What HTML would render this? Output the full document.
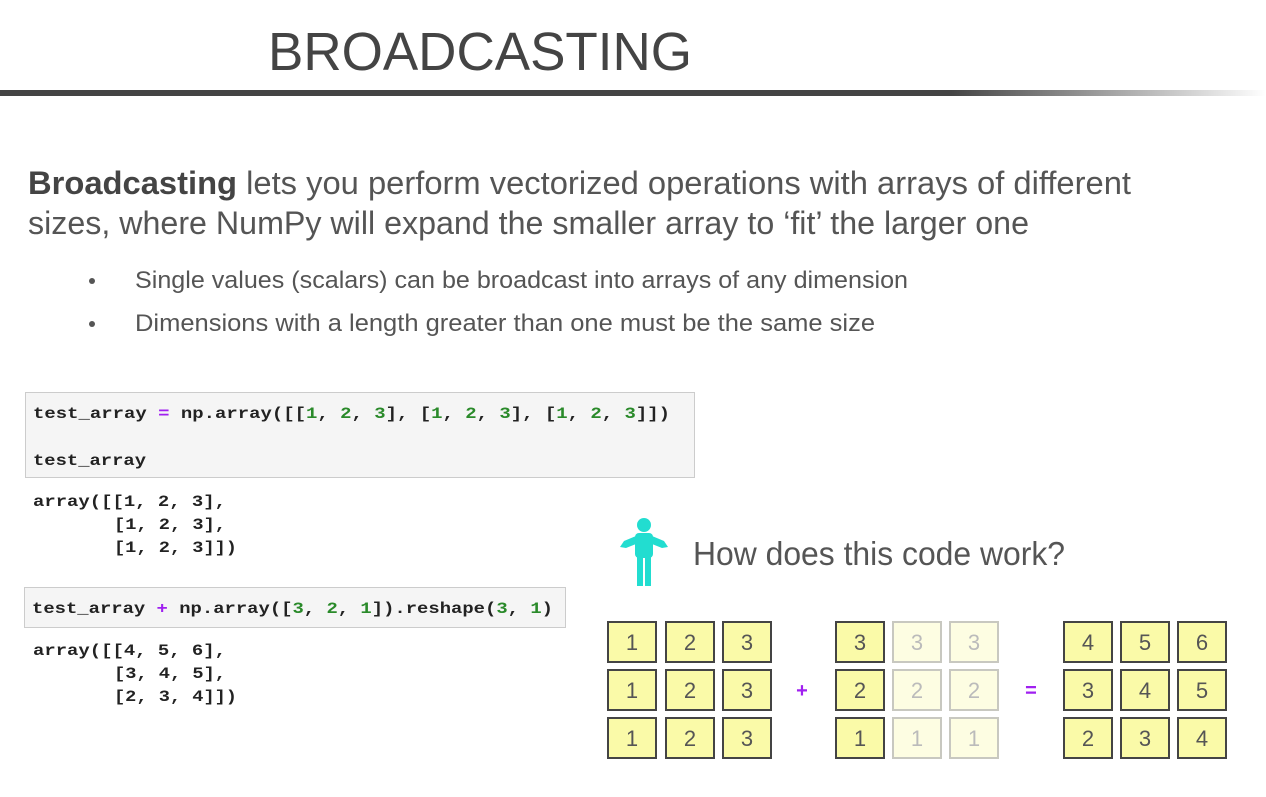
<!DOCTYPE html>
<html><head><meta charset="utf-8"><style>
html,body{margin:0;padding:0;background:#fff;}
svg{display:block}
.t{font-family:"Liberation Sans",sans-serif;fill:#555}
.c{font-family:"Liberation Mono",monospace;font-weight:bold;font-size:16px;fill:#222}
.g{fill:#2a8a2a}.p{fill:#a020f0}
.n{font-family:"Liberation Sans",sans-serif;font-size:22px;fill:#555;text-anchor:middle}
</style></head><body>
<svg width="1266" height="797" viewBox="0 0 1266 797">
<defs><linearGradient id="bar" x1="0" x2="1"><stop offset="0" stop-color="#444"/><stop offset="0.75" stop-color="#444"/><stop offset="1" stop-color="#fff"/></linearGradient></defs>
<text x="268" y="70" class="t" font-size="54" style="fill:#444" textLength="424" lengthAdjust="spacingAndGlyphs">BROADCASTING</text>
<rect x="0" y="90" width="1266" height="6" fill="url(#bar)"/>
<text x="28" y="194" class="t" font-size="32" textLength="1103" lengthAdjust="spacingAndGlyphs"><tspan font-weight="bold" style="fill:#444">Broadcasting</tspan> lets you perform vectorized operations with arrays of different</text>
<text x="28" y="234" class="t" font-size="32" textLength="1001" lengthAdjust="spacingAndGlyphs">sizes, where NumPy will expand the smaller array to ‘fit’ the larger one</text>
<circle cx="92" cy="281" r="3" fill="#555"/>
<circle cx="92" cy="324" r="3" fill="#555"/>
<text x="135" y="288" class="t" font-size="24" textLength="773" lengthAdjust="spacingAndGlyphs">Single values (scalars) can be broadcast into arrays of any dimension</text>
<text x="135" y="331" class="t" font-size="24" textLength="740" lengthAdjust="spacingAndGlyphs">Dimensions with a length greater than one must be the same size</text>

<rect x="25.5" y="392.5" width="669" height="85" fill="#f5f5f5" stroke="#ccc"/>
<text x="33" y="418" class="c" textLength="637" lengthAdjust="spacingAndGlyphs">test_array <tspan class="p">=</tspan> np.array([[<tspan class="g">1</tspan>, <tspan class="g">2</tspan>, <tspan class="g">3</tspan>], [<tspan class="g">1</tspan>, <tspan class="g">2</tspan>, <tspan class="g">3</tspan>], [<tspan class="g">1</tspan>, <tspan class="g">2</tspan>, <tspan class="g">3</tspan>]])</text>
<text x="33" y="465" class="c" textLength="113" lengthAdjust="spacingAndGlyphs">test_array</text>
<text x="33" y="506" class="c" textLength="193" lengthAdjust="spacingAndGlyphs">array([[1, 2, 3],</text>
<text x="114" y="529" class="c" textLength="112" lengthAdjust="spacingAndGlyphs">[1, 2, 3],</text>
<text x="114" y="552" class="c" textLength="123" lengthAdjust="spacingAndGlyphs">[1, 2, 3]])</text>

<rect x="24.5" y="587.5" width="541" height="40" fill="#f5f5f5" stroke="#ccc"/>
<text x="32" y="613" class="c" textLength="521" lengthAdjust="spacingAndGlyphs">test_array <tspan class="p">+</tspan> np.array([<tspan class="g">3</tspan>, <tspan class="g">2</tspan>, <tspan class="g">1</tspan>]).reshape(<tspan class="g">3</tspan>, <tspan class="g">1</tspan>)</text>
<text x="33" y="655" class="c" textLength="193" lengthAdjust="spacingAndGlyphs">array([[4, 5, 6],</text>
<text x="114" y="678" class="c" textLength="112" lengthAdjust="spacingAndGlyphs">[3, 4, 5],</text>
<text x="114" y="701" class="c" textLength="123" lengthAdjust="spacingAndGlyphs">[2, 3, 4]])</text>

<g fill="#22ddd0">
<circle cx="644" cy="525" r="7"/>
<rect x="635" y="533" width="18" height="25" rx="4"/>
<path d="M636 536 L624 541 L620 547 L626 548 L636 544 Z"/>
<path d="M652 536 L664 541 L668 547 L662 548 L652 544 Z"/>
<rect x="637" y="555" width="6" height="31"/>
<rect x="645" y="555" width="6" height="31"/>
</g>
<text x="693" y="565" class="t" font-size="33" textLength="372" lengthAdjust="spacingAndGlyphs">How does this code work?</text>

<g stroke="#444" stroke-width="2">
<g fill="#fafaa8">
<rect x="608" y="622" width="48" height="40"/><rect x="666" y="622" width="48" height="40"/><rect x="723" y="622" width="48" height="40"/>
<rect x="608" y="670" width="48" height="40"/><rect x="666" y="670" width="48" height="40"/><rect x="723" y="670" width="48" height="40"/>
<rect x="608" y="718" width="48" height="40"/><rect x="666" y="718" width="48" height="40"/><rect x="723" y="718" width="48" height="40"/>
<rect x="836" y="622" width="48" height="40"/><rect x="836" y="670" width="48" height="40"/><rect x="836" y="718" width="48" height="40"/>
<rect x="1064" y="622" width="48" height="40"/><rect x="1121" y="622" width="48" height="40"/><rect x="1178" y="622" width="48" height="40"/>
<rect x="1064" y="670" width="48" height="40"/><rect x="1121" y="670" width="48" height="40"/><rect x="1178" y="670" width="48" height="40"/>
<rect x="1064" y="718" width="48" height="40"/><rect x="1121" y="718" width="48" height="40"/><rect x="1178" y="718" width="48" height="40"/>
</g>
<g fill="#fdfde2" stroke="#c8c8c0">
<rect x="893" y="622" width="48" height="40"/><rect x="950" y="622" width="48" height="40"/>
<rect x="893" y="670" width="48" height="40"/><rect x="950" y="670" width="48" height="40"/>
<rect x="893" y="718" width="48" height="40"/><rect x="950" y="718" width="48" height="40"/>
</g>
</g>
<g>
<text x="632" y="650" class="n">1</text><text x="690" y="650" class="n">2</text><text x="747" y="650" class="n">3</text>
<text x="632" y="698" class="n">1</text><text x="690" y="698" class="n">2</text><text x="747" y="698" class="n">3</text>
<text x="632" y="746" class="n">1</text><text x="690" y="746" class="n">2</text><text x="747" y="746" class="n">3</text>
<text x="860" y="650" class="n">3</text><text x="860" y="698" class="n">2</text><text x="860" y="746" class="n">1</text>
<text x="917" y="650" class="n" style="fill:#bbb">3</text><text x="974" y="650" class="n" style="fill:#bbb">3</text>
<text x="917" y="698" class="n" style="fill:#bbb">2</text><text x="974" y="698" class="n" style="fill:#bbb">2</text>
<text x="917" y="746" class="n" style="fill:#bbb">1</text><text x="974" y="746" class="n" style="fill:#bbb">1</text>
<text x="1088" y="650" class="n">4</text><text x="1145" y="650" class="n">5</text><text x="1202" y="650" class="n">6</text>
<text x="1088" y="698" class="n">3</text><text x="1145" y="698" class="n">4</text><text x="1202" y="698" class="n">5</text>
<text x="1088" y="746" class="n">2</text><text x="1145" y="746" class="n">3</text><text x="1202" y="746" class="n">4</text>
</g>
<text x="802" y="697" font-family="Liberation Sans,sans-serif" font-weight="bold" font-size="20" fill="#a020f0" text-anchor="middle">+</text>
<text x="1031" y="697" font-family="Liberation Sans,sans-serif" font-weight="bold" font-size="20" fill="#a020f0" text-anchor="middle">=</text>
</svg>
</body></html>
